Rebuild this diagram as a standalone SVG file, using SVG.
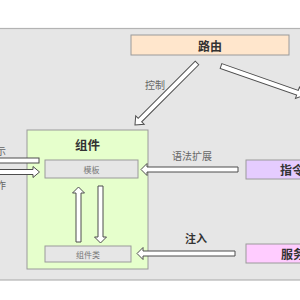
<svg xmlns="http://www.w3.org/2000/svg" width="300" height="300" viewBox="0 0 300 300">
<style>
.panel{fill:#e6e6e6;stroke:#b3b3b3;stroke-width:1.2}
.box{stroke:#9a9a9a;stroke-width:1}
.arr{fill:#ffffff;stroke:#4d4d4d;stroke-width:1}
.t{font-family:"Noto Sans CJK SC","Noto Sans",sans-serif;dominant-baseline:central}
.bold{font-weight:bold;fill:#333333}
.lbl{fill:#666666;font-size:10px}
.small{fill:#777777;font-size:8px}
</style>
<rect width="300" height="300" fill="#ffffff"/>
<rect class="panel" x="-10" y="28.5" width="320" height="251.5"/>
<g id="router">
<rect class="box" x="131" y="35" width="158" height="20" fill="#ffe6cc"/>
<text class="t bold" x="210" y="45" font-size="12" text-anchor="middle">路由</text>
</g>
<g id="component">
<rect class="box" x="27" y="130" width="121" height="139" fill="#e6ffcc"/>
<text class="t bold" x="87.5" y="144" font-size="12.5" text-anchor="middle">组件</text>
</g>
<g id="template">
<rect class="box" x="45" y="160" width="93" height="18" fill="#e6e6e6"/>
<text class="t small" x="91.5" y="169" text-anchor="middle">模板</text>
</g>
<g id="component-class">
<rect class="box" x="45" y="246" width="86" height="16" fill="#e6e6e6"/>
<text class="t small" x="88" y="254" text-anchor="middle">组件类</text>
</g>
<g id="directive">
<rect class="box" x="246" y="160" width="80" height="19" fill="#e5ccff"/>
<text class="t bold" x="280" y="169.5" font-size="12">指令</text>
</g>
<g id="service">
<rect class="box" x="246" y="244" width="80" height="19" fill="#ffccff"/>
<text class="t bold" x="281" y="253.5" font-size="12">服务</text>
</g>
<g id="connectors">
<path class="arr" transform="translate(197,63) rotate(135)" d="M0,-2.5 L80.7,-2.5 L80.7,-6 L87.7,0 L80.7,6 L80.7,2.5 L0,2.5 Z"/>
<path class="arr" transform="translate(221,66) rotate(19.3)" d="M0,-2.5 L81,-2.5 L81,-6 L88,0 L81,6 L81,2.5 L0,2.5 Z"/>
<path class="arr" d="M238,167 L147,167 L147,163.5 L141,169.5 L147,175.5 L147,172 L238,172 Z"/>
<path class="arr" d="M235,251 L143,251 L143,247.5 L137,253.5 L143,259.5 L143,256 L235,256 Z"/>
<rect class="arr" x="-5" y="158" width="44" height="5"/>
<path class="arr" d="M-5,169.5 L33,169.5 L33,166.5 L39.5,172 L33,177.5 L33,174.5 L-5,174.5 Z"/>
<path class="arr" d="M76,242 L76,193 L72.5,193 L78.5,187 L84.5,193 L81,193 L81,242 Z"/>
<path class="arr" d="M98,186 L103,186 L103,237 L106.5,237 L100.5,243 L94.5,237 L98,237 Z"/>
<text class="t lbl" x="155" y="84" text-anchor="middle">控制</text>
<text class="t lbl" x="192" y="155" text-anchor="middle">语法扩展</text>
<text class="t bold" x="196" y="238" font-size="11" text-anchor="middle">注入</text>
<text class="t lbl" x="6" y="150" text-anchor="end">示</text>
<text class="t lbl" x="6" y="184" text-anchor="end">作</text>
</g>
</svg>
